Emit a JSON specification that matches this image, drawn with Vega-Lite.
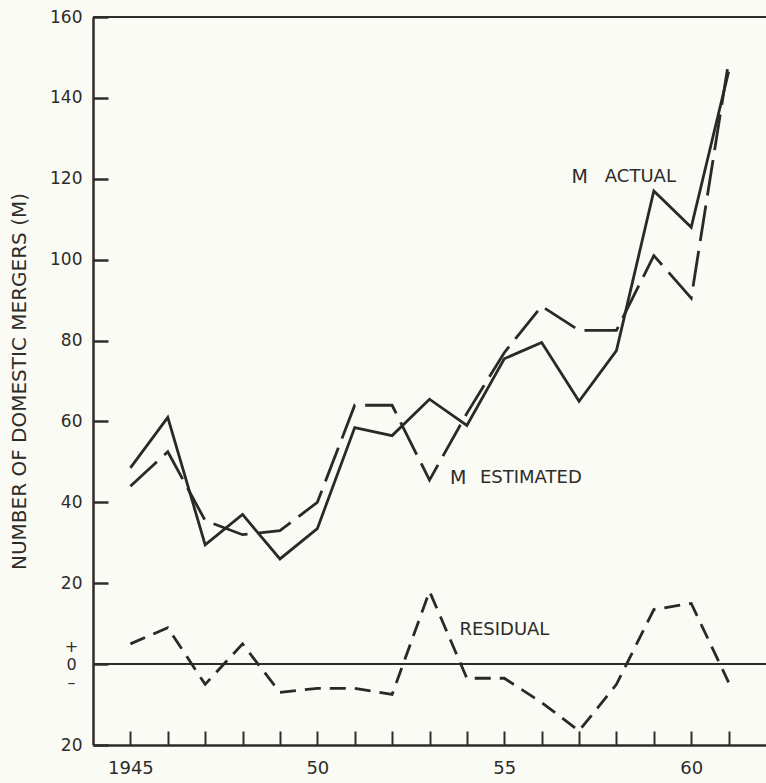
{
  "$schema": "https://vega.github.io/schema/vega-lite/v6.json",
  "width": 673,
  "height": 728,
  "autosize": {"type": "none"},
  "padding": {"left": 93, "top": 17, "right": 0, "bottom": 38},
  "background": "#fbfbf6",
  "config": {
    "view": {"stroke": null},
    "font": "DejaVu Sans",
    "axis": {"labelFont": "DejaVu Sans", "titleFont": "DejaVu Sans", "labelColor": "#2e2c28", "titleColor": "#2e2c28", "domainColor": "#2e2c28", "tickColor": "#2e2c28", "grid": false}
  },
  "datasets": {
    "mergers": [
      {"year": 1945, "actual": 48.5, "estimated": 44, "residual": 5},
      {"year": 1946, "actual": 61, "estimated": 52.5, "residual": 9},
      {"year": 1947, "actual": 29.5, "estimated": 35.5, "residual": -5},
      {"year": 1948, "actual": 37, "estimated": 32, "residual": 5},
      {"year": 1949, "actual": 26, "estimated": 33, "residual": -7},
      {"year": 1950, "actual": 33.5, "estimated": 40, "residual": -6},
      {"year": 1951, "actual": 58.5, "estimated": 64, "residual": -6},
      {"year": 1952, "actual": 56.5, "estimated": 64, "residual": -7.5},
      {"year": 1953, "actual": 65.5, "estimated": 45.5, "residual": 18},
      {"year": 1954, "actual": 59, "estimated": 62, "residual": -3.5},
      {"year": 1955, "actual": 75.5, "estimated": 77, "residual": -3.5},
      {"year": 1956, "actual": 79.5, "estimated": 88.5, "residual": -9.5},
      {"year": 1957, "actual": 65, "estimated": 82.5, "residual": -16.5},
      {"year": 1958, "actual": 77.5, "estimated": 82.5, "residual": -5},
      {"year": 1959, "actual": 117, "estimated": 101, "residual": 13.5},
      {"year": 1960, "actual": 108, "estimated": 90.5, "residual": 15},
      {"year": 1961, "actual": 146.5, "estimated": 149, "residual": -4.5}
    ]
  },
  "data": {"name": "mergers"},
  "layer": [
    {
      "mark": {"type": "line", "color": "#2b2925", "strokeWidth": 2.8},
      "encoding": {
        "x": {"field": "year", "type": "quantitative",
          "scale": {"domain": [1944, 1962], "nice": false, "zero": false},
          "axis": {"title": null, "values": [1945,1946,1947,1948,1949,1950,1951,1952,1953,1954,1955,1956,1957,1958,1959,1960,1961],
            "labelExpr": "datum.value == 1945 ? '1945' : (datum.value % 5 == 0 ? substring(toString(datum.value), 2) : '')",
            "tickSize": -14, "tickWidth": 2, "domainWidth": 2.5, "labelFontSize": 18, "labelPadding": 28,
            "labelFlush": false, "labelOverlap": false}},
        "y": {"field": "actual", "type": "quantitative",
          "scale": {"domain": [-20, 160], "nice": false, "zero": false},
          "axis": {"title": "NUMBER OF DOMESTIC MERGERS (M)", "values": [-20, 0, 20, 40, 60, 80, 100, 120, 140, 160],
            "labelExpr": "datum.value < 0 ? '20' : (datum.value == 0 ? ['+', '0', '–'] : datum.label)",
            "tickSize": -15, "tickWidth": 2.5, "domainWidth": 2.5, "labelFontSize": {"condition": {"test": "datum.value == 0", "value": 16}, "value": 17},
            "labelPadding": {"condition": {"test": "datum.value == 0", "value": 37}, "value": 26},
            "labelAlign": {"condition": {"test": "datum.value == 0", "value": "center"}, "value": "right"},
            "labelOffset": {"condition": {"test": "datum.value == 0", "value": -18}, "value": 0},
            "labelLineHeight": 18, "labelFlush": false, "labelOverlap": false,
            "titleFontSize": 20, "titleFontWeight": "normal", "titlePadding": 20}}
      }
    },
    {
      "mark": {"type": "rule", "color": "#2e2c28", "strokeWidth": 2.2},
      "encoding": {"y": {"datum": 160, "type": "quantitative"}}
    },
    {
      "mark": {"type": "rule", "color": "#2e2c28", "strokeWidth": 2},
      "encoding": {"y": {"datum": 0, "type": "quantitative"}}
    },
    {
      "mark": {"type": "line", "color": "#2b2925", "strokeWidth": 2.8, "strokeDash": [36, 10]},
      "encoding": {
        "x": {"field": "year", "type": "quantitative"},
        "y": {"field": "estimated", "type": "quantitative"}
      }
    },
    {
      "mark": {"type": "line", "color": "#2b2925", "strokeWidth": 2.8, "strokeDash": [16, 9]},
      "encoding": {
        "x": {"field": "year", "type": "quantitative"},
        "y": {"field": "residual", "type": "quantitative"}
      }
    },
    {
      "data": {"values": [{"year": 1956.8, "value": 120.5, "text": "M"}, {"year": 1953.55, "value": 46, "text": "M"}]},
      "mark": {"type": "text", "align": "left", "baseline": "middle", "fontSize": 19, "color": "#2e2c28", "font": "DejaVu Sans"},
      "encoding": {"x": {"field": "year", "type": "quantitative"}, "y": {"field": "value", "type": "quantitative"}, "text": {"field": "text"}}
    },
    {
      "data": {"values": [{"year": 1957.69, "value": 120.5, "text": "ACTUAL"}, {"year": 1954.35, "value": 46, "text": "ESTIMATED"}, {"year": 1953.8, "value": 8.4, "text": "RESIDUAL"}]},
      "mark": {"type": "text", "align": "left", "baseline": "middle", "fontSize": 18, "color": "#2e2c28", "font": "DejaVu Sans"},
      "encoding": {"x": {"field": "year", "type": "quantitative"}, "y": {"field": "value", "type": "quantitative"}, "text": {"field": "text"}}
    }
  ]
}
